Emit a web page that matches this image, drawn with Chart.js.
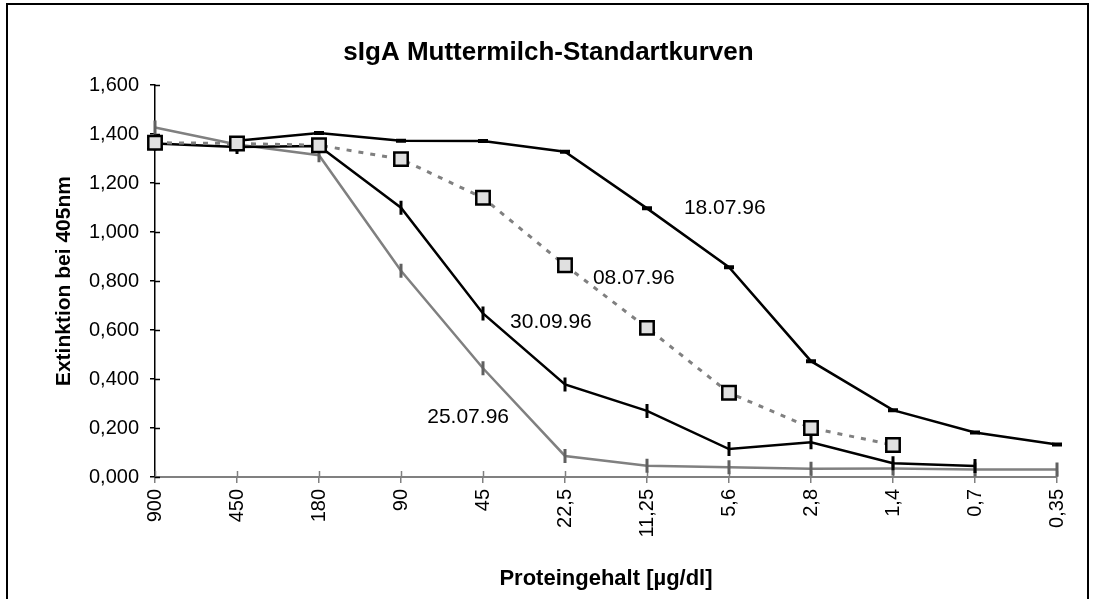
<!DOCTYPE html>
<html>
<head>
<meta charset="utf-8">
<title>sIgA Muttermilch-Standartkurven</title>
<script src="https://cdn.jsdelivr.net/npm/chart.js@4"></script>
<style>
  html, body { margin: 0; padding: 0; overflow: hidden; background: #fff; }
  #frame { position: absolute; left: 6px; top: 3px; width: 1079px; height: 640px; border: 2px solid #000; }
  #wrap { position: absolute; left: 0; top: 0; width: 1093px; height: 599px; }
</style>
</head>
<body>
<div id="frame"></div>
<div id="wrap"><canvas id="myChart" width="1093" height="599"></canvas></div>
<script>
'use strict';
// Proteingehalt categories (x axis, µg/dl)
let categories = ['900', '450', '180', '90', '45', '22,5', '11,25', '5,6', '2,8', '1,4', '0,7', '0,35'];

let seriesNames = ['08.07.96', '18.07.96', '30.09.96', '25.07.96'];
let values0807 = [1.365, 1.362, 1.355, 1.298, 1.140, 0.865, 0.609, 0.344, 0.200, 0.131, null, null];
let values1807 = [null, 1.373, 1.405, 1.373, 1.372, 1.328, 1.097, 0.857, 0.473, 0.273, 0.182, 0.133];
let values3009 = [1.362, 1.348, 1.352, 1.100, 0.668, 0.378, 0.270, 0.114, 0.142, 0.056, 0.045, null];
let values2507 = [1.427, 1.358, 1.314, 0.842, 0.444, 0.086, 0.046, 0.040, 0.034, 0.035, 0.031, 0.031];

let fontFamily = "'Liberation Sans', Arial, sans-serif";

// where the date labels sit (category index, value)
let noteSpots = [
  { name: '18.07.96', at: 6.45, value: 1.098 },
  { name: '08.07.96', at: 5.34, value: 0.812 },
  { name: '30.09.96', at: 4.33, value: 0.633 },
  { name: '25.07.96', at: 3.32, value: 0.245 }
];

let axisExtras = {
  id: 'axisExtras',
  beforeDatasetsDraw(chart) {
    // ticks in Excel cross the axis line, draw the inner half
    let c = chart.ctx;
    let x = chart.scales.x;
    let y = chart.scales.y;
    c.save();
    c.lineWidth = 1.5;
    c.strokeStyle = '#808080';
    for (let i = 0; i < x.ticks.length; i++) {
      let px = Math.round(x.getPixelForTick(i)) + 0.5;
      c.beginPath();
      c.moveTo(px, x.top);
      c.lineTo(px, x.top - 6);
      c.stroke();
    }
    c.strokeStyle = '#000';
    for (let i = 0; i < y.ticks.length; i++) {
      let py = Math.round(y.getPixelForTick(i)) + 0.5;
      c.beginPath();
      c.moveTo(y.right, py);
      c.lineTo(y.right + 5, py);
      c.stroke();
    }
    c.restore();
  },
  afterDraw(chart) {
    let c = chart.ctx;
    c.save();
    c.fillStyle = '#000';
    c.font = '21px ' + fontFamily;
    c.textAlign = 'left';
    c.textBaseline = 'middle';
    noteSpots.forEach(function (n) {
      c.fillText(n.name, chart.scales.x.getPixelForValue(n.at), chart.scales.y.getPixelForValue(n.value));
    });
    c.restore();
  }
};

let ctx = document.getElementById('myChart').getContext('2d');
let myChart = new Chart(ctx, {
  type: 'line',
  data: {
    labels: categories,
    datasets: [{
      label: seriesNames[0],
      data: values0807,
      borderColor: '#808080',
      borderWidth: 3,
      borderDash: [5, 7],
      pointStyle: 'rect',
      pointRadius: 9.5,
      pointBackgroundColor: '#e0e0e0',
      pointBorderColor: '#000',
      pointBorderWidth: 2.5,
      order: 0
    }, {
      label: seriesNames[1],
      data: values1807,
      borderColor: '#000',
      borderWidth: 2.5,
      pointStyle: 'line',
      pointRadius: 5,
      pointBorderColor: '#000',
      pointBorderWidth: 4,
      order: 1
    }, {
      label: seriesNames[2],
      data: values3009,
      borderColor: '#000',
      borderWidth: 2.5,
      pointStyle: 'line',
      pointRotation: 90,
      pointRadius: 7,
      pointBorderColor: '#000',
      pointBorderWidth: 3,
      order: 2
    }, {
      label: seriesNames[3],
      data: values2507,
      borderColor: '#808080',
      borderWidth: 2.5,
      pointStyle: 'line',
      pointRotation: 90,
      pointRadius: 7,
      pointBorderColor: '#606060',
      pointBorderWidth: 3,
      order: 3
    }]
  },
  options: {
    responsive: false,
    animation: false,
    layout: { padding: { top: 0, left: 40, right: 36, bottom: 0 } },
    plugins: {
      legend: { display: false },
      tooltip: { enabled: false },
      title: {
        display: true,
        text: 'sIgA Muttermilch-Standartkurven',
        color: '#000',
        font: { family: fontFamily, size: 26, weight: 'bold' },
        padding: { top: 37, bottom: 17 }
      }
    },
    scales: {
      x: {
        grid: { drawOnChartArea: false, tickLength: 6, color: '#808080', lineWidth: 1.5 },
        border: { color: '#808080', width: 2 },
        ticks: {
          color: '#000',
          font: { family: fontFamily, size: 20 },
          minRotation: 90,
          maxRotation: 90,
          autoSkip: false,
          padding: 6
        },
        title: {
          display: true,
          text: 'Proteingehalt [µg/dl]',
          color: '#000',
          font: { family: fontFamily, size: 22, weight: 'bold' },
          padding: { top: 0, bottom: 7 }
        },
        afterFit: function (s) { s.height = 122; }
      },
      y: {
        min: 0,
        max: 1.6,
        grid: { drawOnChartArea: false, tickLength: 5, color: '#000', lineWidth: 1.5 },
        border: { color: '#000', width: 1.5 },
        ticks: {
          stepSize: 0.2,
          color: '#000',
          font: { family: fontFamily, size: 20 },
          padding: 11,
          callback: function (v) { return v.toFixed(3).replace('.', ','); }
        },
        title: {
          display: true,
          text: 'Extinktion bei 405nm',
          color: '#000',
          font: { family: fontFamily, size: 21, weight: 'bold' },
          padding: { top: 12, bottom: 0 }
        },
        afterFit: function (s) { s.width = 115; }
      }
    }
  },
  plugins: [axisExtras]
});
</script>
</body>
</html>
